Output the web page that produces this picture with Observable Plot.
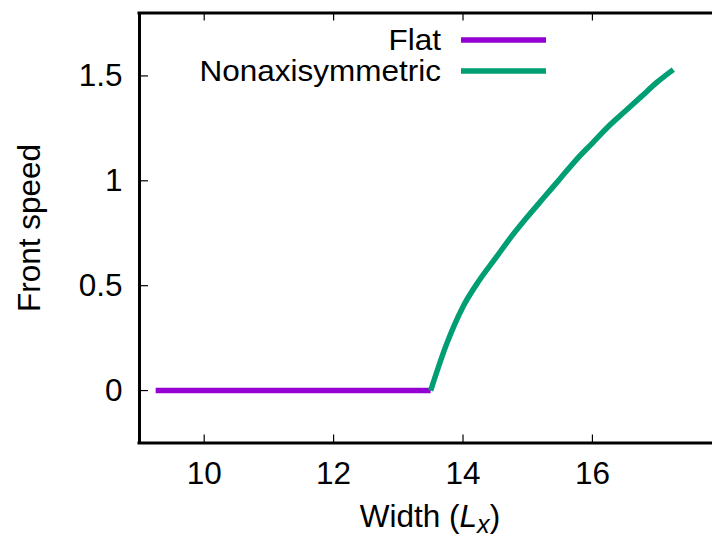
<!DOCTYPE html>
<html><head><meta charset="utf-8">
<script src="https://cdn.jsdelivr.net/npm/d3@7"></script>
<script src="https://cdn.jsdelivr.net/npm/@observablehq/plot@0.6"></script>
<style>body{margin:0;background:#fff} #chart{position:relative;width:712px;height:539px}</style>
</head><body><div id="chart"></div>
<script>
const flatWidth = [9.25, 13.5];
const flatSpeed = [0, 0];
const nonWidth = [13.5, 13.75, 14, 14.25, 14.5, 14.75, 15, 15.25, 15.5, 15.75, 16, 16.25, 16.5, 16.75, 17, 17.25];
const nonSpeed = [0, 0.225, 0.40, 0.525, 0.63, 0.735, 0.83, 0.92, 1.01, 1.10, 1.18, 1.26, 1.33, 1.40, 1.47, 1.53];
const xTicks = [10, 12, 14, 16];
const yTicks = [0, 0.5, 1, 1.5];
const yTickLabels = ["0", "0.5", "1", "1.5"];
const xDomain = [9, 17.856];
const yDomain = [-0.25, 1.8];
const seriesNames = ["Flat", "Nonaxisymmetric"];
const seriesColors = ["#9400d3", "#009e73"];
const xLabelParts = ["Width (", "L", "x", ")"];
const yLabel = "Front speed";

const W = 712, H = 539;
const mL = 139, mR = 0, mT = 12.5, mB = 96.5;
const innerW = W - mL - mR, innerH = H - mT - mB;
const FONT = "Liberation Sans, Arial, sans-serif";
const FS = 31.5;
const LFS = 29.5;

const flatData = flatWidth.map((w, i) => ({w, s: flatSpeed[i]}));
const nonData = nonWidth.map((w, i) => ({w, s: nonSpeed[i]}));

const chart = Plot.plot({
  width: W, height: H,
  marginLeft: mL, marginRight: mR, marginTop: mT, marginBottom: mB,
  style: {fontFamily: FONT, fontSize: FS + "px", color: "black", background: "white", overflow: "visible"},
  x: {domain: xDomain},
  y: {domain: yDomain},
  marks: [
    Plot.axisX({ticks: xTicks, tickSize: 0, tickPadding: 19, label: null, fontSize: FS}),
    Plot.axisY({ticks: yTicks, tickSize: 0, tickPadding: 17, label: null, fontSize: FS,
      tickFormat: d => yTickLabels[yTicks.indexOf(d)]}),
    Plot.tickX(xTicks, {x: d => d, stroke: "black", strokeWidth: 1.2, insetTop: innerH - 8}),
    Plot.tickX(xTicks, {x: d => d, stroke: "black", strokeWidth: 1.2, insetBottom: innerH - 8}),
    Plot.tickY(yTicks, {y: d => d, stroke: "black", strokeWidth: 1.2, insetRight: innerW - 9}),
    Plot.line(flatData, {x: "w", y: "s", stroke: seriesColors[0], strokeWidth: 5.5, strokeLinecap: "butt", clip: true}),
    Plot.line(nonData, {x: "w", y: "s", stroke: seriesColors[1], strokeWidth: 5.5, strokeLinecap: "butt", curve: "monotone-x", clip: true}),
    Plot.ruleX([xDomain[0]], {stroke: "black", strokeWidth: 3}),
    Plot.ruleY([yDomain[0]], {stroke: "black", strokeWidth: 3, strokeLinecap: "square"}),
    Plot.ruleY([yDomain[1]], {stroke: "black", strokeWidth: 3, strokeLinecap: "square"})
  ]
});
document.getElementById("chart").appendChild(chart);

const svg = d3.select(chart);
// x axis label
const xl = svg.append("text")
  .attr("x", 430).attr("y", 527)
  .attr("text-anchor", "middle")
  .attr("font-family", FONT).attr("font-size", FS).attr("fill", "black");
xl.append("tspan").text(xLabelParts[0]);
xl.append("tspan").attr("font-style", "italic").text(xLabelParts[1]);
xl.append("tspan").attr("font-style", "italic").attr("font-size", FS * 0.8).attr("dy", 6).text(xLabelParts[2]);
xl.append("tspan").attr("dy", -6).text(xLabelParts[3]);

// y axis label
svg.append("text")
  .attr("transform", "translate(40,228) rotate(-90)")
  .attr("text-anchor", "middle")
  .attr("font-family", FONT).attr("font-size", FS).attr("fill", "black")
  .text(yLabel);

// legend
const legY = [40, 71];
seriesNames.forEach((name, i) => {
  const g = svg.append("g");
  const t = g.append("text").attr("x", 441).attr("y", legY[i]).attr("dy", "0.35em")
    .attr("text-anchor", "end").attr("font-family", FONT).attr("font-size", LFS).attr("fill", "black")
    .text(name);
  const len = t.node().getComputedTextLength();
  if (len > 0) t.attr("textLength", len * FS / LFS).attr("lengthAdjust", "spacingAndGlyphs");
  g.append("line").attr("x1", 461).attr("x2", 546).attr("y1", legY[i]).attr("y2", legY[i])
    .attr("stroke", seriesColors[i]).attr("stroke-width", 5.5);
});
</script>
</body></html>
